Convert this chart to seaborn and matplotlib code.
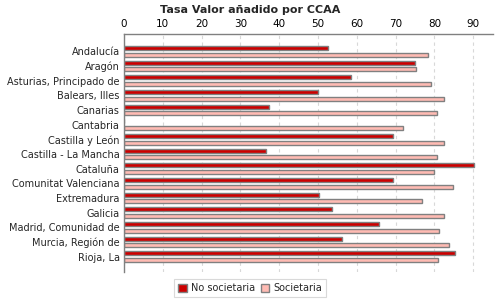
import matplotlib
matplotlib.use("Agg")
import matplotlib.pyplot as plt
import seaborn as sns
import pandas as pd
import numpy as np

categories = ["Andalucía", "Aragón", "Asturias, Principado de", "Balears, Illes",
              "Canarias", "Cantabria", "Castilla y León", "Castilla - La Mancha",
              "Cataluña", "Comunitat Valenciana", "Extremadura", "Galicia",
              "Madrid, Comunidad de", "Murcia, Región de", "Rioja, La"]
no_societaria = [52.6, 75.1, 58.6, 49.9, 37.3, 0.0, 69.2, 36.6,
                 90.3, 69.4, 50.3, 53.7, 65.8, 56.2, 85.2]
societaria = [78.4, 75.2, 79.0, 82.4, 80.6, 71.8, 82.6, 80.6,
              80.0, 84.9, 76.7, 82.6, 81.3, 83.7, 81.0]
series = ["No societaria", "Societaria"]
ticks = [0, 10, 20, 30, 40, 50, 60, 70, 80, 90]
title = "Tasa Valor añadido por CCAA"

df = pd.DataFrame({
    "CCAA": categories * 2,
    "Serie": [series[0]] * len(categories) + [series[1]] * len(categories),
    "Valor": no_societaria + societaria,
})

sns.set_theme(style="white")
plt.rcParams["font.family"] = ["DejaVu Sans"]

fig = plt.figure(figsize=(5, 3), dpi=100)
ax = fig.add_axes([0.248, 0.093, 0.738, 0.795])

palette = {"No societaria": "#CC0000", "Societaria": "#FFBBB3"}
sns.barplot(data=df, y="CCAA", x="Valor", hue="Serie", order=categories,
            hue_order=series, palette=palette, orient="h", width=0.92, gap=0.4,
            edgecolor="#808080", linewidth=1.0, saturation=1, ax=ax, legend=True)

ax.set_xlim(0, 95.1)
ax.set_ylim(15.05, -1.21)
ax.set_xticks(ticks)
ax.xaxis.tick_top()
ax.tick_params(axis="x", labelsize=7.5, length=0, pad=3, colors="#000000")
ax.tick_params(axis="y", labelsize=7, length=0, pad=3)
ax.set_xlabel("")
ax.set_ylabel("")
ax.grid(axis="x", color="#d8d8d8", linestyle=(0, (3, 3)), linewidth=0.8)
ax.set_axisbelow(True)
for s in ["right", "bottom"]:
    ax.spines[s].set_visible(False)
for s in ["top", "left"]:
    ax.spines[s].set_color("#808080")
    ax.spines[s].set_linewidth(1.0)

fig.text(0.5, 0.967, title, ha="center", va="center", fontsize=8, fontweight="bold")

handles, labels = ax.get_legend_handles_labels()
ax.get_legend().remove()
leg = fig.legend(handles, labels, loc="center", bbox_to_anchor=(0.5, 0.04), ncol=2,
                 fontsize=7, frameon=True, fancybox=False, edgecolor="#d0d0d0",
                 handlelength=0.9, handleheight=0.9, handletextpad=0.4,
                 columnspacing=0.6, borderpad=0.4)
leg.get_frame().set_linewidth(0.8)

fig.savefig("out.png", dpi=100, facecolor="white")
